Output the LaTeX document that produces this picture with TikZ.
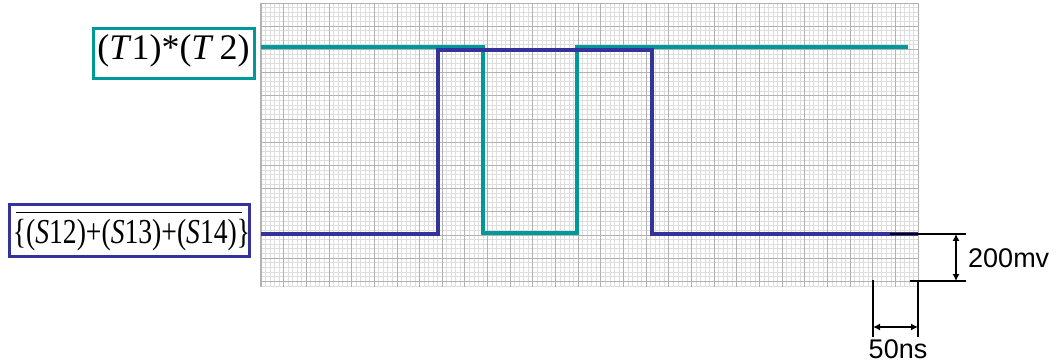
\documentclass[tikz,border=0pt]{standalone}
\usepackage{fontspec}
\usepackage{graphicx}
\setmainfont{Liberation Serif}
\newfontfamily\sansf{Liberation Sans}
\newfontfamily\condf[FakeStretch=0.79]{Liberation Serif}
\usetikzlibrary{arrows.meta}
\definecolor{tealw}{RGB}{0,153,153}
\definecolor{navyw}{RGB}{51,51,153}
\definecolor{gridminor}{RGB}{222,222,222}
\definecolor{gridmajor}{RGB}{178,178,178}
\tikzset{
  minorgrid/.style={draw=gridminor, line width=0.9pt},
  majorgrid/.style={draw=gridmajor, line width=0.9pt},
  tealwave/.style={draw=tealw, line width=4pt, line join=miter},
  navywave/.style={draw=navyw, line width=4.6pt, line join=miter},
  labelbox/.style={draw, line width=3pt, fill=white, inner sep=0pt},
  dimline/.style={draw=black, line width=1.2pt},
  dimarrow/.style={draw=black, line width=1.2pt, {Latex[length=7pt,width=7pt]}-{Latex[length=7pt,width=7pt]}},
  dimtext/.style={font=\sansf\fontsize{27}{27}\selectfont, inner sep=0pt}
}
\begin{document}
\begin{tikzpicture}[x=1pt,y=-1pt]
\useasboundingbox (0,0) rectangle (1059,363);
% grid
\foreach \i in {0,...,145} \draw[minorgrid] ({261+\i*4.532},3) -- ({261+\i*4.532},287);
\foreach \j in {0,...,61} \draw[minorgrid] (261,{3+\j*4.64}) -- (918,{3+\j*4.64});
\foreach \i in {0,5,...,145} \draw[majorgrid] ({261+\i*4.532},3) -- ({261+\i*4.532},287);
\foreach \j in {0,5,...,60} \draw[majorgrid] (261,{3+\j*4.64}) -- (918,{3+\j*4.64});
\draw[majorgrid, line width=1.6pt] (261,3) -- (261,287);
% waveforms
\draw[tealwave] (261,47.5) -- (483,47.5) -- (483,233) -- (577,233) -- (577,47.5) -- (908,47.5);
\draw[navywave] (261,234) -- (438,234) -- (438,50) -- (652,50) -- (652,234) -- (918,234);
\draw[black, line width=2pt] (890,234) -- (918,234);
% labels
\node[labelbox, draw=tealw, minimum width=161, minimum height=50] (tbox) at (174,53.5) {};
\node[inner sep=0pt, font=\fontsize{36}{36}\selectfont] (ttext) at (173.5,51) {(\textit{T}1)*(\textit{T}\,2)};
\node[labelbox, draw=navyw, minimum width=240, minimum height=52] (sbox) at (129.5,230.5) {};
\node[inner sep=0pt, font=\condf\fontsize{35}{35}\selectfont] (stext) at (131.5,235.5) {\{(\textit{S}12)+(\textit{S}13)+(\textit{S}14)\}};
\draw[line width=1pt] (16,213) -- (242,213);
% dimensions
\coordinate (v1) at (918,234);
\coordinate (v1e) at (966,234);
\coordinate (v2) at (910,281);
\coordinate (v2e) at (966,281);
\draw[dimline] (v1) -- (v1e);
\draw[dimline] (v2) -- (v2e);
\coordinate (va) at (956,234);
\coordinate (vb) at (956,281);
\draw[dimarrow] (va) -- (vb);
\node[dimtext, anchor=west] (mv) at (968,258) {200mv};
\coordinate (h1) at (873,280);
\coordinate (h1e) at (873,337);
\coordinate (h2) at (918,281);
\coordinate (h2e) at (918,337);
\draw[dimline] (h1) -- (h1e);
\draw[dimline] (h2) -- (h2e);
\coordinate (ha) at (873,327);
\coordinate (hb) at (918,327);
\draw[dimarrow] (ha) -- (hb);
\node[dimtext] (ns) at (898,349) {50ns};
\end{tikzpicture}
\end{document}
